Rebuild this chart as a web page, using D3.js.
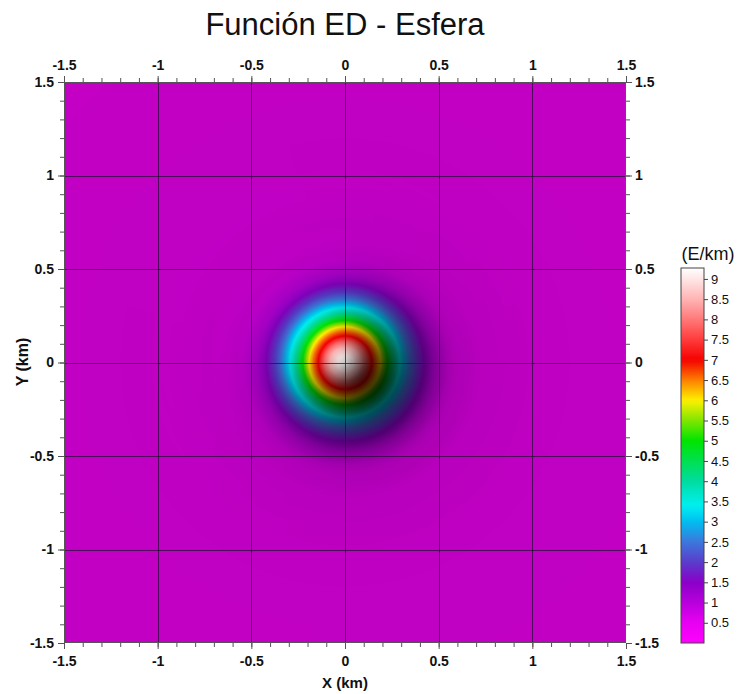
<!DOCTYPE html>
<html>
<head>
<meta charset="utf-8">
<script src="https://cdn.jsdelivr.net/npm/d3@7"></script>
<style>
  body { margin: 0; background: #fff; }
  svg { display: block; font-family: "Liberation Sans", Arial, sans-serif; }
</style>
</head>
<body>
<svg id="chart" width="738" height="694"></svg>
<script>
// Radial profile of the sphere's anomaly: distance from the centre (km) -> E/km
const profileRadius = [0, 0.04, 0.08, 0.11, 0.14, 0.17, 0.195, 0.225, 0.26, 0.295, 0.34, 0.375, 0.42, 0.47, 0.55, 0.7, 1.0, 2.2];
const profileValue  = [9.27, 9.05, 8.5, 7.9, 7.05, 6.5, 5.9, 5.0, 4.1, 3.35, 2.5, 2.0, 1.5, 1.0, 0.6, 0.35, 0.2, 0.1];

// Colour ramp (E/km -> colour)
const colorStopValues = [0, 0.5, 1, 1.5, 2, 2.5, 3, 3.4, 4, 4.5, 5, 5.5, 6, 6.4, 7, 7.5, 8, 8.5, 9, 9.27];
const colorStopColors = ["#ff00ff", "#e800f2", "#b800dc", "#8a00c8", "#5a3ccc", "#3c78dc", "#00bef0", "#00f0f0",
                         "#00dca0", "#00e050", "#00e400", "#80e600", "#fff000", "#ff9600", "#f50000", "#ff3c3c",
                         "#ff7878", "#ffb4b4", "#ffe6e6", "#ffffff"];

// Axis ticks
const majorTicks = [-1.5, -1, -0.5, 0, 0.5, 1, 1.5];
const minorTicks = d3.range(-15, 16).map(d => d / 10);
const gridTicks = [-1, -0.5, 0, 0.5, 1];
const colorTicks = [0.5, 1, 1.5, 2, 2.5, 3, 3.5, 4, 4.5, 5, 5.5, 6, 6.5, 7, 7.5, 8, 8.5, 9];
const colorDomain = [0, 9.27];

const titleText = "Función ED - Esfera";
const xLabel = "X (km)";
const yLabel = "Y (km)";
const unitLabel = "(E/km)";

const svg = d3.select("#chart");
const plotLeft = 64, plotRight = 626, plotTop = 82, plotBottom = 643;

const x = d3.scaleLinear([-1.5, 1.5], [plotLeft, plotRight]);
const y = d3.scaleLinear([-1.5, 1.5], [plotBottom, plotTop]);
const profile = d3.scaleLinear(profileRadius, profileValue).clamp(true);
const color = d3.scaleLinear(colorStopValues, colorStopColors).clamp(true);

// Colour lookup table
const LUT_N = 2048;
const lut = d3.range(LUT_N).map(k => d3.rgb(color(colorDomain[0] + (colorDomain[1] - colorDomain[0]) * k / (LUT_N - 1))));

// Shaded-relief raster, lit from the north-west
const W = plotRight - plotLeft, H = plotBottom - plotTop;
const canvas = document.createElement("canvas");
canvas.width = W; canvas.height = H;
const ctx = canvas.getContext("2d");
const img = ctx.createImageData(W, H);
const elev = 51 * Math.PI / 180;
const lx = -Math.cos(elev) / Math.SQRT2, ly = -Math.cos(elev) / Math.SQRT2, lz = Math.sin(elev);
const zf = 0.029, hstep = 0.035;

for (let j = 0; j < H; j++) {
  const yv = y.invert(plotTop + j + 0.5);
  for (let i = 0; i < W; i++) {
    const xv = x.invert(plotLeft + i + 0.5);
    const r = Math.hypot(xv, yv);
    const v = profile(r);
    const dvdr = (profile(r + hstep) - profile(Math.abs(r - hstep))) / (2 * hstep);
    const gx = r > 1e-9 ? dvdr * xv / r : 0;          // along screen x
    const gyScreen = r > 1e-9 ? -dvdr * yv / r : 0;   // along screen y (downwards)
    const nx = -zf * gx, ny = -zf * gyScreen;
    const nlen = Math.sqrt(nx * nx + ny * ny + 1);
    const shade = Math.max(0, (nx * lx + ny * ly + lz) / nlen);
    const k = Math.round((v - colorDomain[0]) / (colorDomain[1] - colorDomain[0]) * (LUT_N - 1));
    const c = lut[Math.max(0, Math.min(LUT_N - 1, k))];
    const p = (j * W + i) * 4;
    img.data[p] = Math.min(255, c.r * shade);
    img.data[p + 1] = Math.min(255, c.g * shade);
    img.data[p + 2] = Math.min(255, c.b * shade);
    img.data[p + 3] = 255;
  }
}
ctx.putImageData(img, 0, 0);

svg.append("image")
  .attr("x", plotLeft).attr("y", plotTop)
  .attr("width", W).attr("height", H)
  .attr("preserveAspectRatio", "none")
  .attr("href", canvas.toDataURL());

// Grid
const grid = svg.append("g").attr("stroke", "#2a0a3c").attr("stroke-opacity", 0.75).attr("stroke-width", 1);
grid.selectAll("line.gx").data(gridTicks).join("line").attr("class", "gx")
  .attr("x1", d => Math.round(x(d)) + 0.5).attr("x2", d => Math.round(x(d)) + 0.5)
  .attr("y1", plotTop).attr("y2", plotBottom);
grid.selectAll("line.gy").data(gridTicks).join("line").attr("class", "gy")
  .attr("y1", d => Math.round(y(d)) + 0.5).attr("y2", d => Math.round(y(d)) + 0.5)
  .attr("x1", plotLeft).attr("x2", plotRight);

// Axes
const fmt = d => String(d);
function styleAxis(g) {
  g.select(".domain").remove();
  g.selectAll("line").attr("stroke", "#555");
  g.selectAll("text").attr("fill", "#111").attr("font-size", 14).attr("font-weight", "bold")
    .attr("font-family", "'Liberation Sans', Arial, sans-serif");
}
function addAxis(axisFn, scale, transform, padding) {
  svg.append("g").attr("transform", transform)
    .call(axisFn(scale).tickValues(minorTicks).tickSize(4).tickFormat(""))
    .call(styleAxis);
  svg.append("g").attr("transform", transform)
    .call(axisFn(scale).tickValues(majorTicks).tickSize(6).tickPadding(padding).tickFormat(fmt))
    .call(styleAxis);
}
addAxis(d3.axisBottom, x, `translate(0,${plotBottom})`, 7);
addAxis(d3.axisTop, x, `translate(0,${plotTop})`, 6);
addAxis(d3.axisLeft, y, `translate(${plotLeft},0)`, 4);
addAxis(d3.axisRight, y, `translate(${plotRight},0)`, 3);

// Frame
svg.append("rect").attr("x", plotLeft + 0.5).attr("y", plotTop + 0.5)
  .attr("width", W - 1).attr("height", H - 1)
  .attr("fill", "none").attr("stroke", "#555").attr("stroke-width", 1);

// Titles
svg.append("text").attr("x", 345).attr("y", 35).attr("text-anchor", "middle")
  .attr("font-size", 31).attr("fill", "#111").text(titleText);
svg.append("text").attr("x", 345).attr("y", 688).attr("text-anchor", "middle")
  .attr("font-size", 15).attr("font-weight", "bold").attr("fill", "#111").text(xLabel);
svg.append("text").attr("transform", "translate(28,362) rotate(-90)").attr("text-anchor", "middle")
  .attr("font-size", 16).attr("font-weight", "bold").attr("fill", "#111").text(yLabel);

// Colour bar
const cbLeft = 681, cbWidth = 23;
const cy = d3.scaleLinear(colorDomain, [plotBottom, 268]);
const defs = svg.append("defs");
const grad = defs.append("linearGradient").attr("id", "cbGrad")
  .attr("x1", 0).attr("y1", 1).attr("x2", 0).attr("y2", 0);
grad.selectAll("stop").data(d3.range(0, 101)).join("stop")
  .attr("offset", d => d + "%")
  .attr("stop-color", d => color(colorDomain[0] + (colorDomain[1] - colorDomain[0]) * d / 100));
svg.append("rect").attr("x", cbLeft).attr("y", cy(colorDomain[1]))
  .attr("width", cbWidth).attr("height", cy(colorDomain[0]) - cy(colorDomain[1]))
  .attr("fill", "url(#cbGrad)").attr("stroke", "#444").attr("stroke-width", 1);
svg.append("g").attr("transform", `translate(${cbLeft + cbWidth},0)`)
  .call(d3.axisRight(cy).tickValues(colorTicks).tickSize(4).tickPadding(3).tickFormat(fmt))
  .call(g => {
    g.select(".domain").remove();
    g.selectAll("line").attr("stroke", "#444");
    g.selectAll("text").attr("fill", "#111").attr("font-size", 13)
      .attr("font-family", "'Liberation Sans', Arial, sans-serif");
  });
svg.append("text").attr("x", 708).attr("y", 260).attr("text-anchor", "middle")
  .attr("font-size", 18).attr("fill", "#111").text(unitLabel);
</script>
</body>
</html>
